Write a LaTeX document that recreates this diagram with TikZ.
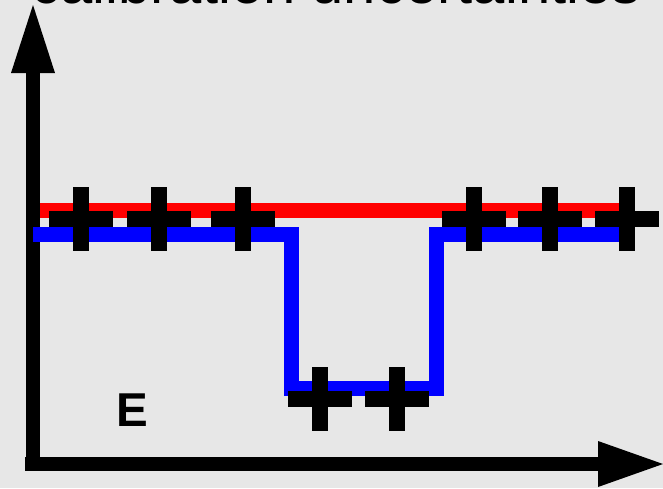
\documentclass[tikz,border=0pt]{standalone}
\usepackage{fontspec}
\setmainfont{Liberation Sans}
\definecolor{bgmarble}{RGB}{231,231,231}
\definecolor{pureRed}{RGB}{255,0,0}
\definecolor{pureBlue}{RGB}{0,0,255}
\tikzset{
  plusmark/.pic={
    \fill[black] (-32,-8) rectangle (32,8);
    \fill[black] (-8,-32) rectangle (8,32);
  },
  redline/.style={draw=pureRed, line width=15pt, line cap=butt},
  blueline/.style={draw=pureBlue, line width=15pt, line cap=butt, line join=miter},
  axisbar/.style={fill=black},
}
\begin{document}
\begin{tikzpicture}[x=1pt,y=-1pt]
\clip (0,0) rectangle (663,488);
\fill[bgmarble] (0,0) rectangle (663,488);
% title (cut off at top)
\node[anchor=base, inner sep=0pt, font=\fontsize{58}{60}\selectfont] (title) at (336,3) {calibration uncertainties};
% axes
\coordinate (origin) at (33,464);
\coordinate (ytip) at (33,5);
\coordinate (xtip) at (663,464);
\fill[axisbar] (26,72) rectangle (40,471);
\fill[axisbar] (11,73) -- (55,73) -- (ytip) -- cycle;
\fill[axisbar] (25,457) rectangle (599,471);
\fill[axisbar] (598,441) -- (598,487) -- (xtip) -- cycle;
% red line
\coordinate (r1) at (40,210.5);
\coordinate (r2) at (635,210.5);
\draw[redline] (r1) -- (r2);
% blue line
\coordinate (b1) at (33,234.5);
\coordinate (b2) at (291.5,234.5);
\coordinate (b3) at (291.5,388);
\coordinate (b4) at (436.5,388);
\coordinate (b5) at (436.5,234.5);
\coordinate (b6) at (619,234.5);
\draw[blueline] (b1) -- (b2) -- (b3) -- (b4) -- (b5) -- (b6);
% crosses
\foreach \cx in {81,159,243,473.5,550,627} {
  \pic at (\cx,218.5) {plusmark};
}
\foreach \cx in {320,396.5} {
  \pic at (\cx,399) {plusmark};
}
% label
\node[anchor=base, inner sep=0pt, font=\fontsize{47.5}{50}\selectfont\bfseries] (elabel) at (132.5,426) {E};
\end{tikzpicture}
\end{document}
